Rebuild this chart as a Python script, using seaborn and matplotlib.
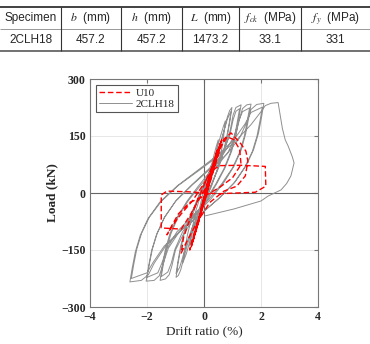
import matplotlib
matplotlib.use('Agg')
import matplotlib.pyplot as plt
import seaborn as sns

# table contents
table_header = ['Specimen', '$b$  (mm)', '$h$  (mm)', '$L$  (mm)', '$f_{ck}$  (MPa)', '$f_y$  (MPa)']
table_row = ['2CLH18', '457.2', '457.2', '1473.2', '33.1', '331']

# 2CLH18 hysteresis (drift %, load kN)
gray_drift = [0, 0.12, 0.25,
              0.18, 0.05, -0.12, -0.25,
              -0.17, -0.05, 0.15, 0.3, 0.42, 0.5,
              0.42, 0.28, 0.05, -0.15, -0.3, -0.42, -0.5,
              -0.42, -0.28, -0.05, 0.2, 0.4, 0.58, 0.68, 0.75,
              0.66, 0.5, 0.25, 0, -0.25, -0.45, -0.62, -0.75,
              -0.68, -0.58, -0.45, -0.28, -0.08, 0.15, 0.4, 0.58, 0.72, 0.82, 0.9, 0.98,
              0.91, 0.82, 0.7, 0.52, 0.3, 0.08, -0.15, -0.4, -0.58, -0.72, -0.82, -0.9, -0.98,
              -0.91, -0.82, -0.7, -0.52, -0.3, -0.08, 0.15, 0.4, 0.58, 0.72, 0.82, 0.95,
              0.88, 0.79, 0.67, 0.5, 0.28, 0.06, -0.17, -0.42, -0.6, -0.74, -0.85, -0.98,
              -0.91, -0.82, -0.68, -0.48, -0.2, 0.1, 0.45, 0.75, 0.92, 1.02, 1.12, 1.3,
              1.22, 1.12, 0.97, 0.75, 0.45, 0.1, -0.3, -0.7, -1.0, -1.12, -1.22, -1.35, -1.54,
              -1.46, -1.36, -1.2, -0.95, -0.6, -0.2, 0.25, 0.65, 0.9, 1.02, 1.12, 1.25,
              1.17, 1.07, 0.92, 0.7, 0.4, 0.05, -0.35, -0.75, -1.02, -1.15, -1.27, -1.5,
              -1.42, -1.31, -1.15, -0.9, -0.55, -0.1, 0.4, 0.85, 1.1, 1.25, 1.35, 1.5, 1.65,
              1.57, 1.46, 1.3, 1.05, 0.7, 0.25, -0.3, -0.85, -1.25, -1.45, -1.57, -1.75, -2.03,
              -1.95, -1.84, -1.67, -1.4, -1.0, -0.45, 0.15, 0.7, 1.05, 1.22, 1.35, 1.6,
              1.52, 1.41, 1.25, 1.0, 0.62, 0.15, -0.4, -0.95, -1.3, -1.48, -1.62, -2.0,
              -1.92, -1.81, -1.64, -1.38, -0.98, -0.4, 0.2, 0.8, 1.25, 1.52, 1.65, 1.85, 2.1,
              2.02, 1.91, 1.74, 1.48, 1.1, 0.55, -0.1, -0.75, -1.35, -1.75, -1.95, -2.2, -2.6,
              -2.52, -2.41, -2.24, -1.97, -1.55, -0.95, -0.25, 0.45, 1.05, 1.45, 1.65, 2.05,
              1.97, 1.86, 1.69, 1.43, 1.05, 0.5, -0.15, -0.8, -1.4, -1.78, -2.0, -2.55,
              -2.47, -2.36, -2.19, -1.92, -1.5, -0.9, -0.2, 0.5, 1.15, 1.65, 1.98, 2.15, 2.35, 2.6,
              2.75, 2.85, 2.95, 3.1, 3.16, 3.1, 3.05, 2.9, 2.7, 2.25, 2.0, 1.5, 1.05, 0.6, 0.25, 0.05]
gray_load = [0, 38, 72,
             45, 8, -38, -75,
             -45, -5, 40, 85, 120, 140,
             95, 45, -10, -50, -90, -122, -140,
             -95, -45, 10, 55, 100, 150, 175, 190,
             130, 70, 15, -25, -70, -115, -160, -185,
             -150, -110, -70, -30, 10, 48, 90, 130, 170, 200, 217, 225,
             190, 150, 110, 68, 28, -12, -50, -95, -135, -175, -203, -217, -222,
             -185, -148, -108, -68, -28, 12, 50, 92, 130, 168, 195, 215,
             182, 145, 106, 66, 27, -12, -50, -92, -130, -167, -195, -212,
             -178, -140, -100, -60, -15, 30, 75, 120, 165, 205, 225, 232,
             195, 152, 110, 68, 25, -20, -62, -105, -150, -190, -215, -226, -230,
             -192, -150, -108, -65, -22, 18, 60, 105, 150, 192, 215, 222,
             188, 146, 105, 64, 22, -20, -60, -102, -148, -185, -208, -220,
             -185, -145, -105, -62, -20, 22, 65, 108, 150, 195, 222, 232, 234,
             198, 155, 112, 70, 28, -15, -58, -100, -145, -190, -218, -230, -232,
             -195, -152, -110, -66, -22, 20, 62, 105, 148, 190, 214, 224,
             190, 148, 107, 66, 24, -18, -60, -102, -146, -185, -210, -222,
             -188, -147, -106, -63, -20, 22, 62, 102, 145, 190, 220, 233, 236,
             200, 157, 114, 72, 30, -12, -55, -95, -140, -185, -215, -230, -234,
             -198, -155, -112, -68, -24, 18, 58, 98, 140, 183, 212, 226,
             192, 150, 108, 68, 26, -16, -57, -97, -140, -182, -210, -225,
             -190, -148, -106, -64, -22, 20, 58, 97, 140, 180, 212, 230, 236, 238,
             170, 140, 124, 95, 79, 60, 45, 25, 8, -8, -21, -32, -42, -50, -56, -60]

# U10 hysteresis
red_drift = [0, 0.15, 0.2, 0.1, -0.05, -0.12, 0.0,
             0.18, 0.3, 0.18, -0.02, -0.15, -0.22, -0.08,
             0.15, 0.38, 0.45, 0.3, 0.02, -0.22, -0.35, -0.2,
             0.1, 0.45, 0.6, 0.52, 0.15, -0.25, -0.46, -0.36,
             0.0, 0.3, 0.55, 0.45, 0.1, -0.2, -0.4, -0.3,
             0.05, 0.35, 0.5, 0.62, 0.5, 0.2, -0.15, -0.38, -0.5, -0.42,
             -0.02, 0.35, 0.7, 0.95, 1.3, 1.47, 1.54, 1.45, 1.15, 0.7,
             0.2, -0.3, -0.62, -0.8, -0.72, -0.5, -0.2,
             0.2, 0.55, 0.82, 1.05, 1.25, 1.3, 1.0, 0.55,
             0.1, -0.5, -0.9, -1.16, -1.3, -1.1, -0.8, -0.4,
             0.0, 0.3, 0.55, 1.3, 2.15, 2.17, 1.8, 0.5, -0.5, -1.3, -1.5, -1.5,
             -0.8, -0.5, -0.2, 0.1, 0.4, 0.6]
red_load = [0, 30, 48, 18, -25, -45, -12,
            40, 70, 35, -20, -60, -78, -40,
            25, 90, 112, 72, -8, -80, -115, -75,
            5, 105, 135, 105, 12, -90, -145, -118,
            -20, 60, 125, 95, 0, -80, -130, -100,
            -10, 80, 115, 140, 110, 30, -60, -120, -150, -125,
            -30, 72, 142, 158, 129, 110, 84, 45, 18, 5,
            -25, -85, -130, -158, -118, -70, -15,
            55, 118, 148, 140, 115, 75, 40, 15,
            -5, -25, -55, -90, -110, -85, -55, -20,
            25, 60, 72, 73, 70, 18, 2, -2, 3, 5, -5, -92,
            -95, -60, -20, 20, 85, 125]

sns.set_style('white')
plt.rcParams['mathtext.fontset'] = 'stix'
serif = ['Liberation Serif', 'DejaVu Serif']
sans = ['Liberation Sans', 'DejaVu Sans']

fig = plt.figure(figsize=(3.7, 3.44), dpi=100)

# table drawn in pixel coordinates
tab = fig.add_axes([0, 0, 1, 1])
tab.set_xlim(0, 370)
tab.set_ylim(344, 0)
tab.axis('off')
col_edges = [0, 61, 121, 182, 239, 301, 370]
tab.hlines(7, 0, 370, color='#333333', lw=1.3)
tab.hlines(29, 0, 370, color='#888888', lw=0.6)
tab.hlines(51, 0, 370, color='#666666', lw=1.3)
tab.vlines(col_edges[1:-1], 7, 51, color='#333333', lw=0.8)
for i in range(6):
    cx = (col_edges[i] + col_edges[i + 1]) / 2
    tab.text(cx, 18.5, table_header[i], ha='center', va='center', fontsize=8.5, family=sans)
    tab.text(cx, 40, table_row[i], ha='center', va='center', fontsize=8.5, family=sans)

ax = fig.add_axes([90 / 370, 1 - 307 / 344, 228 / 370, 228 / 344])
ax.grid(True, color='#e3e3e3', lw=0.6)
ax.axhline(0, color='#666666', lw=0.8, zorder=1)
ax.axvline(0, color='#666666', lw=0.8, zorder=1)

sns.lineplot(x=gray_drift, y=gray_load, sort=False, estimator=None, color='#8f8f8f',
             lw=0.7, ax=ax, label='2CLH18')
sns.lineplot(x=red_drift, y=red_load, sort=False, estimator=None, color='red',
             lw=1.0, linestyle=(0, (4, 2)), ax=ax, label='U10')

ax.set_xlim(-4, 4)
ax.set_ylim(-300, 300)
ax.set_xticks([-4, -2, 0, 2, 4])
ax.set_yticks([-300, -150, 0, 150, 300])
ax.tick_params(direction='in', top=True, right=True, length=3, color='#777777', labelsize=8.5, pad=3)
for lab in ax.get_xticklabels() + ax.get_yticklabels():
    lab.set_family(serif)
    lab.set_fontweight('bold')
for sp in ax.spines.values():
    sp.set_color('#777777')
    sp.set_linewidth(0.8)
ax.set_xlabel('Drift ratio (%)', family=serif, fontsize=9.5, labelpad=2)
ax.set_ylabel('Load (kN)', family=serif, fontsize=9.5, fontweight='bold', labelpad=2)

handles, labels = ax.get_legend_handles_labels()
leg = ax.legend(handles[::-1], labels[::-1], loc='upper left', prop={'family': serif, 'size': 8},
                fancybox=False, edgecolor='#555555', framealpha=1, handlelength=3.0,
                handletextpad=0.3, labelspacing=0.1, borderpad=0.3, borderaxespad=0.5)
leg.get_frame().set_linewidth(0.8)

fig.savefig('out.png', dpi=100)
